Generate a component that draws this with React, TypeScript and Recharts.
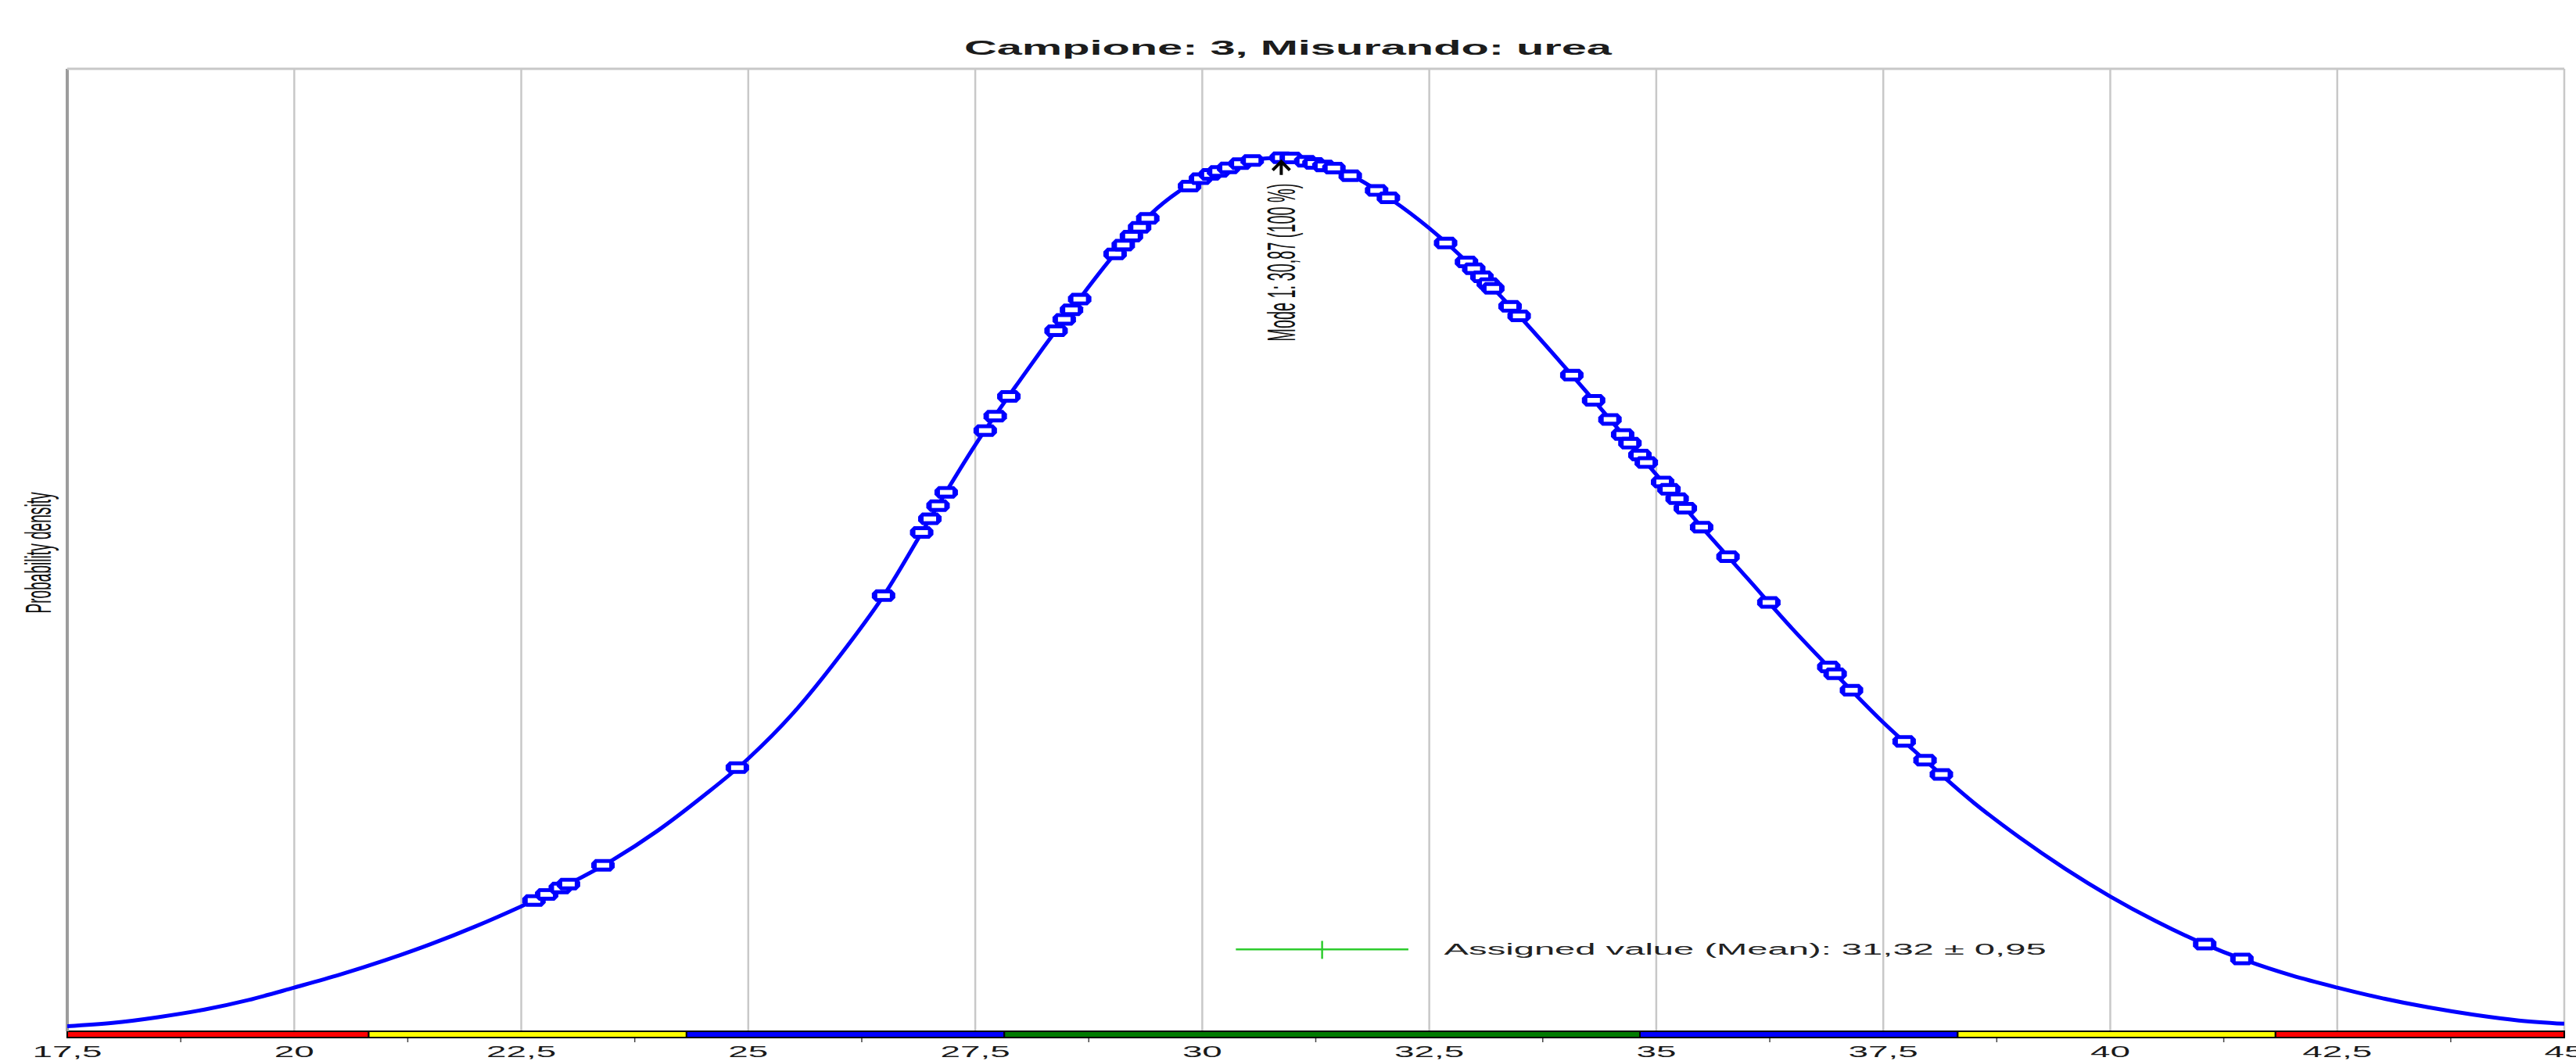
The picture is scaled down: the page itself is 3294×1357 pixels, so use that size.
import {
  CartesianGrid,
  ComposedChart,
  Line,
  ReferenceArea,
  ReferenceDot,
  ReferenceLine,
  Scatter,
  XAxis,
  YAxis,
} from "recharts";

const FONT = '"Liberation Sans", Arial, sans-serif';

// density curve
const curveX = [
  17.5, 18, 18.5, 19, 19.5, 20, 20.5, 21, 21.5, 22, 22.5, 23, 23.5, 24, 24.5, 25, 25.5, 26, 26.5, 27,
  27.5, 28, 28.5, 29, 29.5, 30, 30.5, 30.87, 31, 31.5, 32, 32.5, 33, 33.5, 34, 34.5, 35, 35.5, 36,
  36.5, 37, 37.5, 38, 38.5, 39, 39.5, 40, 40.5, 41, 41.5, 42, 42.5, 43, 43.5, 44, 44.5, 45,
];
const curveDensity = [
  0.00063, 0.00104, 0.00176, 0.00268, 0.00391, 0.00545, 0.00705, 0.00885, 0.01085, 0.0131, 0.01558,
  0.01824, 0.02131, 0.02499, 0.02929, 0.034, 0.03973, 0.04669, 0.05447, 0.06389, 0.0731, 0.08129,
  0.08907, 0.09643, 0.10258, 0.10646, 0.10851, 0.10892, 0.10886, 0.10749, 0.10431, 0.10012, 0.095,
  0.08907, 0.08272, 0.07617, 0.06941, 0.06286, 0.05652, 0.05017, 0.04424, 0.0385, 0.03339, 0.02847,
  0.02417, 0.02029, 0.01681, 0.01374, 0.01105, 0.0088, 0.00695, 0.00545, 0.00411, 0.00299, 0.00207,
  0.00135, 0.00094,
];

// participant results placed on the curve
const resultX = [
  22.64, 22.78, 22.93, 23.02, 23.4, 24.88, 26.49, 26.91, 27.0, 27.09,
  27.18, 27.61, 27.72, 27.87, 28.39, 28.48, 28.56, 28.65, 29.04, 29.13,
  29.22, 29.31, 29.4, 29.86, 29.98, 30.09, 30.18, 30.29, 30.42, 30.55,
  30.87, 30.98, 31.14, 31.23, 31.34, 31.45, 31.63, 31.92, 32.05, 32.68,
  32.91, 32.99, 33.08, 33.15, 33.2, 33.39, 33.49, 34.07, 34.31, 34.49,
  34.63, 34.71, 34.82, 34.89, 35.07, 35.14, 35.23, 35.32, 35.5, 35.79,
  36.24, 36.9, 36.97, 37.15, 37.73, 37.96, 38.14, 41.04, 41.45,
];
const resultDensity = [
  0.01631, 0.01707, 0.01787, 0.01836, 0.0207, 0.03287, 0.05431, 0.06219, 0.06389, 0.06554,
  0.0672, 0.0749, 0.0767, 0.07916, 0.08735, 0.08876, 0.08995, 0.09128, 0.09693, 0.09803,
  0.09914, 0.10024, 0.10135, 0.10538, 0.1063, 0.10683, 0.1072, 0.10765, 0.10818, 0.10857,
  0.10892, 0.10888, 0.10847, 0.1082, 0.1079, 0.10763, 0.10667, 0.10483, 0.10391, 0.09828,
  0.09592, 0.09508, 0.09406, 0.09322, 0.09263, 0.09038, 0.08919, 0.0818, 0.07867, 0.07629,
  0.07441, 0.07332, 0.07185, 0.07091, 0.06849, 0.06757, 0.0664, 0.06522, 0.06286, 0.05918,
  0.05347, 0.04542, 0.04458, 0.04252, 0.03615, 0.0338, 0.03202, 0.01087, 0.00902,
];

const tickValues = [
  17.5, 18.75, 20, 21.25, 22.5, 23.75, 25, 26.25, 27.5, 28.75, 30, 31.25, 32.5, 33.75, 35, 36.25,
  37.5, 38.75, 40, 41.25, 42.5, 43.75, 45,
];
const majorTicks = [17.5, 20, 22.5, 25, 27.5, 30, 32.5, 35, 37.5, 40, 42.5, 45];

// z-score bands under the axis
const bandEdges = [17.5, 20.82, 24.32, 27.82, 34.82, 38.32, 41.82, 45];
const bandColors = ["#ff0000", "#ffff00", "#0000ff", "#007a00", "#0000ff", "#ffff00", "#ff0000"];

const modeValue = 30.87;
const modeDensity = 0.10892;
const modeLabel = "Mode 1: 30,87 (100 %)";

const assignedMean = 31.32;
const assignedU = 0.95;
const assignedLevel = 0.0102;
const assignedLabel = "Assigned value (Mean): 31,32 ± 0,95";

const yFloor = -0.00078;
const yTop = 0.12;

const curve = curveX.map((x, i) => ({ x, d: curveDensity[i] }));
const results = resultX.map((x, i) => ({ x, d: resultDensity[i] }));
const bands = bandColors.map((color, i) => ({ x1: bandEdges[i], x2: bandEdges[i + 1], color }));

function AxisTick({ x, y, payload }: any) {
  const v = payload.value;
  if (!majorTicks.includes(v)) {
    return <line x1={x} x2={x} y1={y + 1} y2={y + 6} stroke="#444" strokeWidth={1.5} />;
  }
  return (
    <text
      transform={`translate(${x},${y + 25}) scale(2.35,1)`}
      textAnchor="middle"
      fontFamily={FONT}
      fontSize={19.5}
      fill="#1a1a1a"
    >
      {String(v).replace(".", ",")}
    </text>
  );
}

function ResultMarker({ cx, cy }: any) {
  const w = 15;
  const h = 8;
  const c = 5;
  const outer = `M${cx - w + c},${cy - h} L${cx + w - c},${cy - h} L${cx + w},${cy - h + c} L${cx + w},${cy + h - c} L${cx + w - c},${cy + h} L${cx - w + c},${cy + h} L${cx - w},${cy + h - c} L${cx - w},${cy - h + c} Z`;
  return (
    <g>
      <path d={outer} fill="#0000ff" />
      <rect x={cx - 8} y={cy - 3} width={16} height={6} fill="#ffffff" />
    </g>
  );
}

function ModeMarker({ cx, cy }: any) {
  return (
    <g>
      <path
        d={`M${cx - 11},${cy + 16} L${cx},${cy + 5} L${cx + 11},${cy + 16} M${cx},${cy + 5} L${cx},${cy + 22}`}
        stroke="#000"
        strokeWidth={4}
        fill="none"
      />
      <text
        transform={`translate(${cx},${cy + 134}) scale(2.6,1) rotate(-90)`}
        textAnchor="middle"
        dominantBaseline="central"
        fontFamily={FONT}
        fontSize={19.5}
        textLength={202}
        lengthAdjust="spacingAndGlyphs"
        fill="#111"
      >
        {modeLabel}
      </text>
    </g>
  );
}

function AssignedMarker({ cx, cy }: any) {
  return (
    <g>
      <line x1={cx} x2={cx} y1={cy - 11} y2={cy + 12} stroke="#2ecc2e" strokeWidth={2.5} />
      <text
        x={cx + 156}
        y={cy + 7}
        fontFamily={FONT}
        fontSize={20}
        textLength={770}
        lengthAdjust="spacingAndGlyphs"
        fill="#222"
      >
        {assignedLabel}
      </text>
    </g>
  );
}

export default function App() {
  return (
    <div>
      <style>{"body{margin:0;background:#fff}"}</style>
      <ComposedChart width={3294} height={1357} margin={{ top: 88, right: 15, bottom: 0, left: 86 }}>
        <CartesianGrid horizontal={false} verticalValues={majorTicks} stroke="#c8c8c8" strokeWidth={2.5} />
        <XAxis
          dataKey="x"
          type="number"
          domain={[17.5, 45]}
          ticks={tickValues}
          interval={0}
          allowDataOverflow
          height={30}
          tickSize={0}
          tickMargin={0}
          tickLine={false}
          axisLine={{ stroke: "#000", strokeWidth: 1.5 }}
          tick={(props: any) => <AxisTick {...props} />}
        />
        <YAxis hide dataKey="d" type="number" domain={[yFloor, yTop]} allowDataOverflow />
        <ReferenceLine
          segment={[{ x: 17.5, y: 0 }, { x: 17.5, y: yTop }]}
          stroke="#9c9c9c"
          strokeWidth={4}
        />
        <ReferenceLine y={yTop} stroke="#c8c8c8" strokeWidth={3} />
        {bands.map((b) => (
          <ReferenceArea
            key={b.x1}
            x1={b.x1}
            x2={b.x2}
            y1={yFloor}
            y2={0}
            fill={b.color}
            fillOpacity={1}
            stroke="#000"
            strokeWidth={2}
          />
        ))}
        <Line
          data={curve}
          dataKey="d"
          type="monotone"
          stroke="#0000ff"
          strokeWidth={5}
          dot={false}
          activeDot={false}
          isAnimationActive={false}
        />
        <Scatter data={results} shape={(p: any) => <ResultMarker {...p} />} isAnimationActive={false} />
        <ReferenceLine
          segment={[
            { x: assignedMean - assignedU, y: assignedLevel },
            { x: assignedMean + assignedU, y: assignedLevel },
          ]}
          stroke="#2ecc2e"
          strokeWidth={2.5}
        />
        <ReferenceDot
          x={assignedMean}
          y={assignedLevel}
          shape={(p: any) => <AssignedMarker {...p} />}
        />
        <ReferenceDot x={modeValue} y={modeDensity} shape={(p: any) => <ModeMarker {...p} />} />
        <text
          x={1647}
          y={70}
          textAnchor="middle"
          fontFamily={FONT}
          fontWeight="bold"
          fontSize={25}
          textLength={828}
          lengthAdjust="spacingAndGlyphs"
          fill="#1c1c1c"
        >
          Campione: 3, Misurando: urea
        </text>
        <text
          transform="translate(49,707) scale(2.4,1) rotate(-90)"
          textAnchor="middle"
          dominantBaseline="central"
          fontFamily={FONT}
          fontSize={19}
          textLength={155}
          lengthAdjust="spacingAndGlyphs"
          fill="#111"
        >
          Probability density
        </text>
      </ComposedChart>
    </div>
  );
}
